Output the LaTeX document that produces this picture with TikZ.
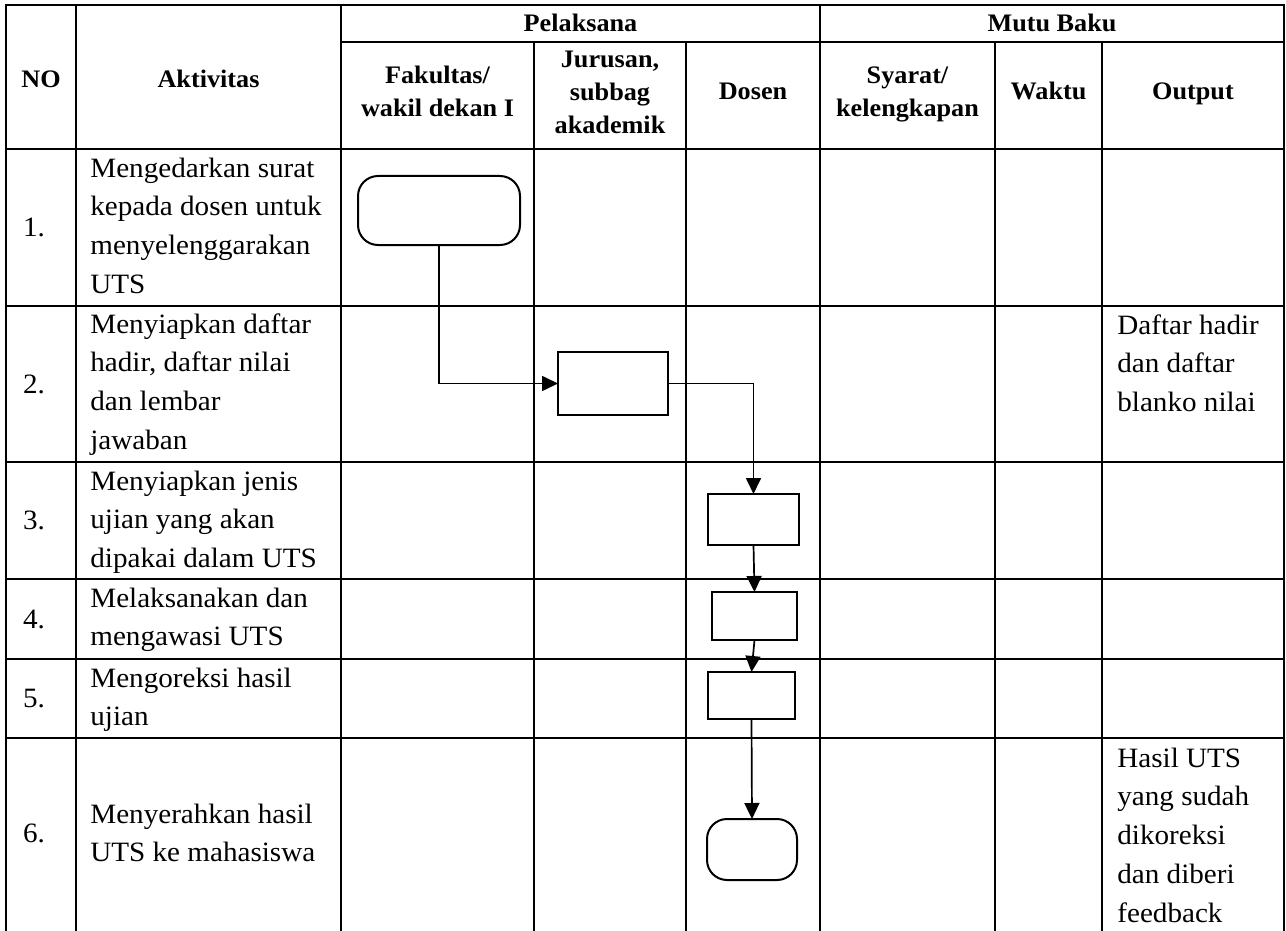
\documentclass[tikz,border=0pt]{standalone}
\usepackage{fontspec}
\setmainfont{Liberation Serif}[FakeStretch=1.04]
\usetikzlibrary{arrows.meta}

% text sizes: body cells and bold column heads
\newcommand\bodyfont{\fontsize{14}{19.4}\selectfont}
\newcommand\headfont{\fontsize{12.6}{16.5}\selectfont\bfseries}
% stacked lines, aligned on the baseline of the first line
\newcommand\leftlines[1]{\begin{tabular}[t]{@{}l@{}}#1\end{tabular}}
\newcommand\midlines[1]{\begin{tabular}[t]{@{}c@{}}#1\end{tabular}}

\begin{document}
\begin{tikzpicture}[x=0.5pt,y=-0.5pt,
  grid/.style={line width=1.4pt, line cap=rect},
  proc/.style={draw, line width=1pt, inner sep=0pt, outer sep=0pt},
  term/.style={proc, rounded corners=10pt},
  flow/.style={line width=0.85pt, -{Triangle[length=8pt,width=7.5pt]}},
  body/.style={anchor=base west, inner sep=0pt, font=\bodyfont},
  num/.style={anchor=base west, inner sep=0pt, font=\bodyfont},
  head/.style={anchor=base, inner sep=0pt, font=\headfont}]

\useasboundingbox (0,0) rectangle (1286,931);

% ---- table grid ----
\draw[grid] (6,5) -- (1284,5);
\draw[grid] (341,42) -- (1284,42);
\foreach \y in {149,306,462,579,659,738}
  \draw[grid] (6,\y) -- (1284,\y);
\foreach \x in {6,76,341,820,1284}
  \draw[grid] (\x,5) -- (\x,931);
\foreach \x in {534,686,995,1102}
  \draw[grid] (\x,42) -- (\x,931);

% ---- column heads ----
\node[head] (hpel) at (580.5,32) {Pelaksana};
\node[head] (hmut) at (1052,32) {Mutu Baku};
\node[head] (hno)  at (41,88) {NO};
\node[head] (hakt) at (208.5,88) {Aktivitas};
\node[head] (hfak) at (437.5,83.5) {\midlines{Fakultas/\\wakil dekan I}};
\node[head] (hjur) at (610,67.5) {\midlines{Jurusan,\\subbag\\akademik}};
\node[head] (hdos) at (753,100) {Dosen};
\node[head] (hsya) at (907.5,83.5) {\midlines{Syarat/\\kelengkapan}};
\node[head] (hwak) at (1048.5,100) {Waktu};
\node[head] (hout) at (1193,100) {Output};

% ---- step numbers ----
\node[num] (n1) at (22.7,236) {1.};
\node[num] (n2) at (22.7,393) {2.};
\node[num] (n3) at (22.7,529.5) {3.};
\node[num] (n4) at (22.7,628) {4.};
\node[num] (n5) at (22.7,707.5) {5.};
\node[num] (n6) at (22.7,842.5) {6.};

% ---- activities ----
\node[body] (a1) at (90,177) {\leftlines{Mengedarkan surat\\kepada dosen untuk\\menyelenggarakan\\UTS}};
\node[body] (a2) at (90,333) {\leftlines{Menyiapkan daftar\\hadir, daftar nilai\\dan lembar\\jawaban}};
\node[body] (a3) at (90,490) {\leftlines{Menyiapkan jenis\\ujian yang akan\\dipakai dalam UTS}};
\node[body] (a4) at (90,607) {\leftlines{Melaksanakan dan\\mengawasi UTS}};
\node[body] (a5) at (90,687) {\leftlines{Mengoreksi hasil\\ujian}};
\node[body] (a6) at (90,823) {\leftlines{Menyerahkan hasil\\UTS ke mahasiswa}};

% ---- outputs ----
\node[body] (o2) at (1117,334) {\leftlines{Daftar hadir\\dan daftar\\blanko nilai}};
\node[body] (o6) at (1117,767) {\leftlines{Hasil UTS\\yang sudah\\dikoreksi\\dan diberi\\feedback}};

% ---- flow shapes ----
\node[term, minimum width=81pt, minimum height=34.5pt] (s1) at (439,210.5) {};
\node[proc, minimum width=55pt, minimum height=31.5pt] (s2) at (613,383.5) {};
\node[proc, minimum width=45.5pt, minimum height=25.5pt] (s3) at (753.5,519.5) {};
\node[proc, minimum width=42.5pt, minimum height=24pt] (s4) at (754.5,616) {};
\node[proc, minimum width=43.5pt, minimum height=23.5pt] (s5) at (751.5,695.5) {};
\node[term, minimum width=45pt, minimum height=30.5pt] (s6) at (752,849.5) {};

% ---- connectors ----
\draw[flow] (s1.south) |- (s2.west);
\draw[flow] (s2.east) -| (s3.north);
\draw[flow] (s3.south) -- (s4.north);
\draw[flow] (s4.south) -- (s5.north);
\draw[flow] (s5.south) -- (s6.north);
\end{tikzpicture}
\end{document}
